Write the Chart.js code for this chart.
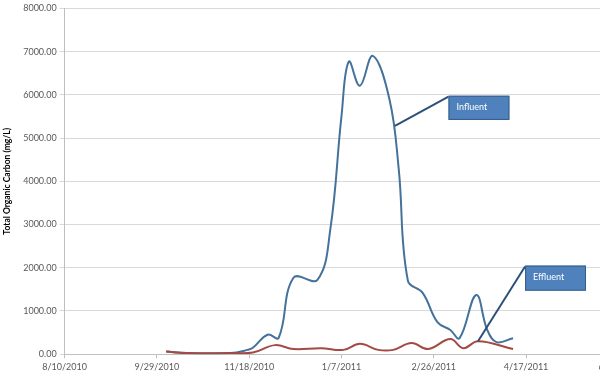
<!DOCTYPE html>
<html>
<head>
<meta charset="utf-8">
<script src="https://cdn.jsdelivr.net/npm/chart.js@4"></script>
<style>
  html, body { margin: 0; padding: 0; background: #fff; overflow: hidden; }
  #wrap { width: 641px; height: 389px; }
</style>
</head>
<body>
<div id="wrap"><canvas id="tocChart"></canvas></div>
<script>
// sample dates and TOC values (mg/L)
const influentDates = ['10/4/2010', '10/15/2010', '11/8/2010', '11/17/2010', '11/20/2010', '11/28/2010',
    '12/4/2010', '12/12/2010', '12/25/2010', '1/1/2011', '1/7/2011', '1/11/2011', '1/17/2011',
    '1/24/2011', '2/2/2011', '2/7/2011', '2/12/2011', '2/20/2011', '2/28/2011', '3/7/2011',
    '3/12/2011', '3/21/2011', '3/27/2011', '4/1/2011', '4/10/2011'];
const influentToc = [60, 25, 25, 100, 150, 450, 380, 1770, 1720, 2900, 5500, 6770, 6210,
    6900, 5900, 4300, 1700, 1420, 740, 560, 370, 1370, 560, 280, 370];

const effluentDates = ['10/4/2010', '10/15/2010', '11/8/2010', '11/20/2010', '12/2/2010', '12/12/2010',
    '12/27/2010', '1/8/2011', '1/17/2011', '1/27/2011', '2/4/2011', '2/14/2011', '2/23/2011',
    '3/7/2011', '3/14/2011', '3/22/2011', '4/10/2011'];
const effluentToc = [60, 25, 25, 40, 210, 120, 140, 100, 240, 100, 100, 260, 120, 350, 140, 300, 120];

// axis: 8/10/2010 to 6/6/2011, every 50 days
const axisStart = '8/10/2010';
const axisEndDays = 300;
const tickStepDays = 50;

// callouts: label, box corners [day, toc], point the leader goes to [day, toc]
const calloutLabels = ['Influent', 'Effluent'];
const calloutBoxes = [[208, 5980, 241, 5420], [249.5, 2050, 282.5, 1470]];
const calloutTargets = [[179, 5280], [224, 300]];

const dayMs = 24 * 3600 * 1000;
function parseDate(s) {
    const [m, d, y] = s.split('/').map(Number);
    return Date.UTC(y, m - 1, d);
}
const base = parseDate(axisStart);
const toDays = s => Math.round((parseDate(s) - base) / dayMs);
function fmtDay(v) {
    const d = new Date(base + v * dayMs);
    return (d.getUTCMonth() + 1) + '/' + d.getUTCDate() + '/' + d.getUTCFullYear();
}

const influentPoints = influentDates.map((s, i) => ({ x: toDays(s), y: influentToc[i] }));
const effluentPoints = effluentDates.map((s, i) => ({ x: toDays(s), y: effluentToc[i] }));

const calloutPlugin = {
    id: 'callouts',
    afterDatasetsDraw(chart) {
        const { ctx, scales: { x, y } } = chart;
        ctx.save();
        calloutLabels.forEach((label, i) => {
            const b = calloutBoxes[i];
            const left = x.getPixelForValue(b[0]), top = y.getPixelForValue(b[1]);
            const right = x.getPixelForValue(b[2]), bottom = y.getPixelForValue(b[3]);
            const tx = x.getPixelForValue(calloutTargets[i][0]);
            const ty = y.getPixelForValue(calloutTargets[i][1]);
            // leader line
            ctx.strokeStyle = '#2c5077';
            ctx.lineWidth = 2;
            ctx.beginPath();
            ctx.moveTo(left, top + 1);
            ctx.lineTo(tx, ty);
            ctx.stroke();
            // box
            ctx.fillStyle = '#4f81bd';
            ctx.fillRect(left, top, right - left, bottom - top);
            ctx.strokeStyle = '#385d8a';
            ctx.lineWidth = 1;
            ctx.strokeRect(left + 0.5, top + 0.5, right - left - 1, bottom - top - 1);
            ctx.fillStyle = '#ffffff';
            ctx.font = '9px Lato';
            ctx.textBaseline = 'middle';
            ctx.fillText(label, left + 8, (top + bottom) / 2 - 1);
        });
        ctx.restore();
    }
};

new Chart(document.getElementById('tocChart'), {
    type: 'line',
    data: {
        datasets: [
            {
                label: 'Effluent',
                data: effluentPoints,
                borderColor: '#a34a44',
                borderWidth: 2,
                pointRadius: 0,
                tension: 0.4,
                fill: false
            },
            {
                label: 'Influent',
                data: influentPoints,
                borderColor: '#44729a',
                borderWidth: 2,
                pointRadius: 0,
                tension: 0.4,
                fill: false
            }
        ]
    },
    options: {
        responsive: true,
        maintainAspectRatio: false,
        animation: false,
        layout: { padding: { top: 6, left: 2, right: 0, bottom: 14 } },
        plugins: {
            legend: { display: false },
            tooltip: { enabled: false }
        },
        scales: {
            x: {
                type: 'linear',
                min: 0,
                max: axisEndDays,
                border: { color: '#bfbfbf' },
                grid: { drawOnChartArea: false, drawTicks: true, tickLength: 4, color: '#bfbfbf' },
                ticks: {
                    stepSize: tickStepDays,
                    maxRotation: 0,
                    color: '#595959',
                    font: { family: 'Lato', size: 9 },
                    padding: 3,
                    callback: v => fmtDay(v)
                }
            },
            y: {
                min: 0,
                max: 8000,
                border: { color: '#bfbfbf' },
                grid: { color: '#d9d9d9', tickLength: 5 },
                ticks: {
                    stepSize: 1000,
                    color: '#595959',
                    font: { family: 'Lato', size: 9 },
                    padding: 3,
                    callback: v => v.toFixed(2)
                },
                title: {
                    display: true,
                    text: 'Total Organic Carbon (mg/L)',
                    color: '#000',
                    font: { family: 'Lato', size: 8.5, weight: 'bold' },
                    padding: { top: 0, bottom: 8 }
                }
            }
        }
    },
    plugins: [calloutPlugin]
});
</script>
</body>
</html>
